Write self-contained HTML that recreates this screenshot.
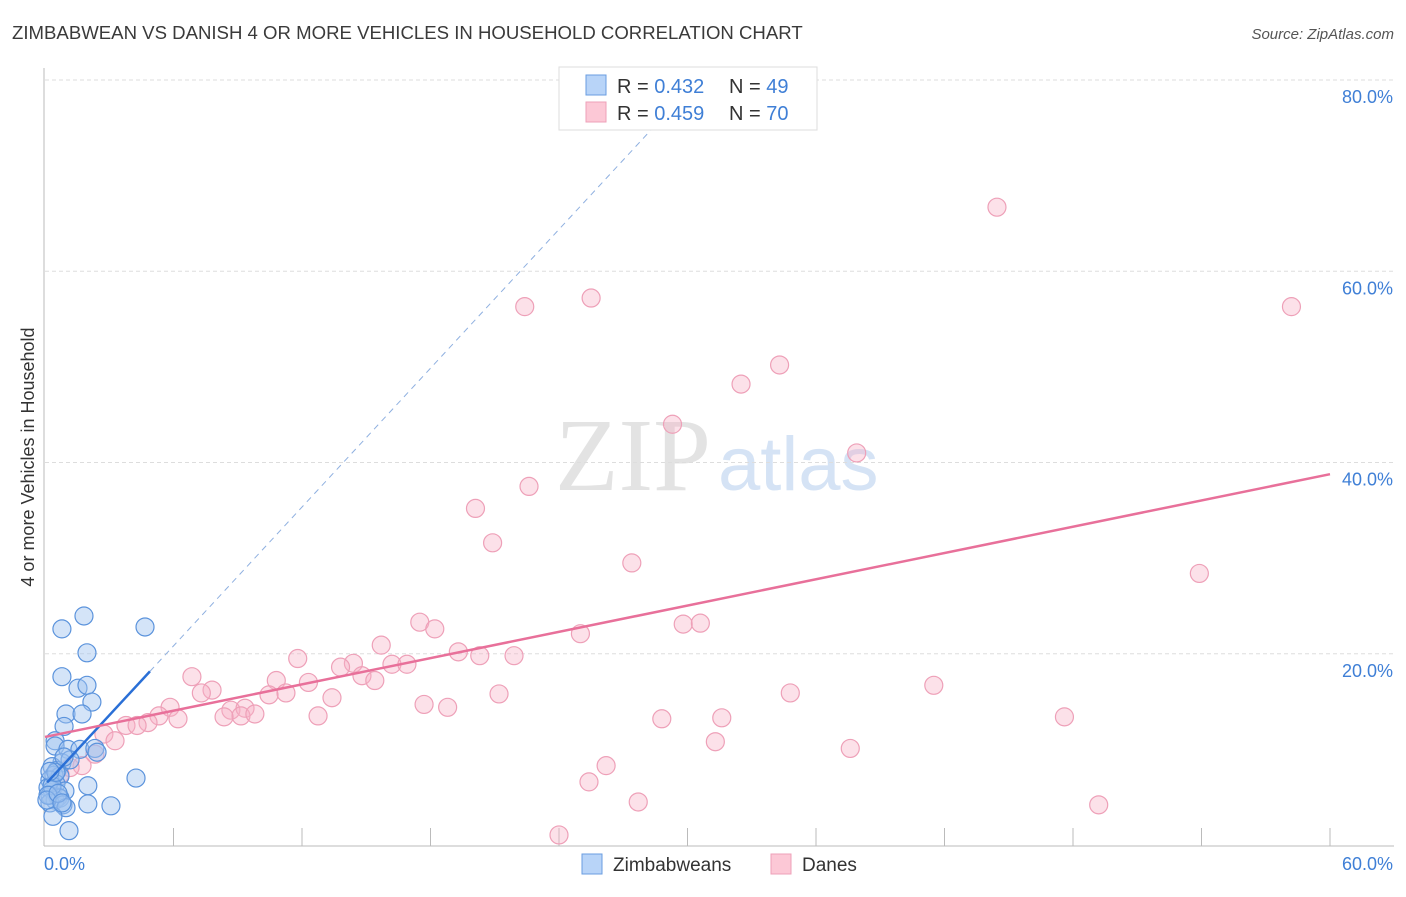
<!DOCTYPE html>
<html><head><meta charset="utf-8"><style>
body{margin:0;background:#fff;font-family:"Liberation Sans",sans-serif}
</style></head><body>
<svg id="chart" width="1406" height="892" xmlns="http://www.w3.org/2000/svg" style="font-family:'Liberation Sans',sans-serif">
<text x="12" y="39" font-size="18.6" fill="#3a3a3a">ZIMBABWEAN VS DANISH 4 OR MORE VEHICLES IN HOUSEHOLD CORRELATION CHART</text>
<text x="1394" y="39" font-size="15" fill="#555" text-anchor="end" font-style="italic">Source: ZipAtlas.com</text>
<text x="555" y="490" font-size="104" fill="#e3e3e3" font-family="'Liberation Serif',serif">ZIP</text>
<text x="718" y="490" font-size="76" fill="#d5e3f5">atlas</text>
<text transform="translate(34,457) rotate(-90)" font-size="18" fill="#333" text-anchor="middle">4 or more Vehicles in Household</text>
<g id="grid"></g><g id="axes"></g><g id="pts"></g><g id="lines"></g>
<g>
<rect x="559" y="67" width="258" height="63" fill="#fff" stroke="#ddd"/>
<rect x="586" y="75" width="20" height="20" fill="#b8d4f8" stroke="#6a9de0"/>
<rect x="586" y="102" width="20" height="20" fill="#fcc8d6" stroke="#eea0b8"/>
<text x="617" y="93" font-size="20" fill="#333">R = <tspan fill="#3f7fd6">0.432</tspan></text>
<text x="729" y="93" font-size="20" fill="#333">N = <tspan fill="#3f7fd6">49</tspan></text>
<text x="617" y="120" font-size="20" fill="#333">R = <tspan fill="#3f7fd6">0.459</tspan></text>
<text x="729" y="120" font-size="20" fill="#333">N = <tspan fill="#3f7fd6">70</tspan></text>
</g>
<g>
<rect x="582" y="854" width="20" height="20" fill="#b8d4f8" stroke="#6a9de0"/>
<text x="613" y="871" font-size="19" fill="#333">Zimbabweans</text>
<rect x="771" y="854" width="20" height="20" fill="#fcc8d6" stroke="#eea0b8"/>
<text x="802" y="871" font-size="19" fill="#333">Danes</text>
</g>
</svg>
<script>
const blueX=[1.82,0.79,4.67,1.96,0.79,1.54,1.96,2.19,0.98,1.73,0.89,0.47,0.47,1.07,1.63,2.33,2.43,0.79,0.33,0.56,0.42,0.70,0.23,0.51,0.14,0.33,0.93,0.23,0.61,0.47,0.70,0.23,0.84,2.0,4.25,2.0,3.08,0.98,0.37,1.12,0.33,0.14,0.51,1.17,0.89,0.23,0.09,0.61,0.79];
const blueY=[23.95,22.6,22.8,20.1,17.6,16.4,16.7,14.95,13.7,13.7,12.4,10.9,10.35,10.0,10.0,10.1,9.7,8.6,8.2,7.8,7.3,7.2,6.8,6.4,6.0,5.75,5.65,5.2,5.0,4.7,4.9,4.4,4.2,6.2,7.0,4.3,4.1,3.9,3.0,1.5,6.2,5.2,7.6,8.9,9.2,7.7,4.7,5.4,4.4];
const pinkX=[44.45,58.2,22.4,25.5,34.3,32.5,29.3,37.9,22.6,20.1,20.9,27.4,53.9,17.5,18.2,25.0,29.8,30.6,11.8,14.4,13.8,19.3,20.3,21.9,15.7,16.2,16.9,14.8,15.4,6.86,10.8,12.3,7.8,7.3,11.25,21.2,34.8,41.5,13.4,5.84,5.32,4.81,6.21,8.68,9.34,9.15,8.36,9.8,12.75,10.46,17.7,18.8,28.8,31.6,47.6,3.78,4.3,2.75,3.27,31.3,37.6,2.33,1.73,1.17,0.7,26.2,25.4,27.7,49.2,24.0];
const pinkY=[66.7,56.3,56.3,57.2,50.2,48.2,44.0,41.0,37.5,35.2,31.6,29.5,28.4,23.3,22.6,22.1,23.1,23.2,19.5,19.0,18.6,20.2,19.8,19.8,20.9,18.9,18.9,17.7,17.2,17.6,17.2,17.0,16.2,15.9,15.9,15.8,15.9,16.7,15.4,14.4,13.5,12.8,13.2,14.1,14.3,13.5,13.4,13.7,13.5,15.7,14.7,14.4,13.2,13.3,13.4,12.5,12.5,11.6,10.9,10.8,10.1,9.5,8.3,8.1,7.4,8.3,6.6,4.5,4.2,1.05];
const yTicks=[20,40,60,80];
const yTickLabels=["20.0%","40.0%","60.0%","80.0%"];
const blueFit=[6.3,2.42];const blueFitEnd=4.9;
const pinkFit=[11.3,0.458];
const NS="http://www.w3.org/2000/svg";
const sx=v=>45+v/60*1285, sy=v=>845-v/80*765;
function mk(p,t,a){const e=document.createElementNS(NS,t);for(const k in a)e.setAttribute(k,a[k]);p.appendChild(e);return e;}
const grid=document.getElementById('grid'),axes=document.getElementById('axes'),pts=document.getElementById('pts'),lines=document.getElementById('lines');
yTicks.forEach((t,i)=>{const l=mk(grid,'line',{x1:45,x2:1394,y1:sy(t),y2:sy(t),stroke:'#ddd','stroke-dasharray':'4,3'});


const tx=mk(axes,'text',{x:1393,y:sy(t)+23,'font-size':18,fill:'#3f7fd6','text-anchor':'end'});tx.textContent=yTickLabels[i];

});
const ya=mk(axes,'line',{x1:44,x2:44,y1:68,y2:846,stroke:'#bbb'});


const xa=mk(axes,'line',{x1:44,x2:1394,y1:846,y2:846,stroke:'#bbb'});


for(let i=1;i<=10;i++){const t=mk(axes,'line',{x1:sx(i*6),x2:sx(i*6),y1:828,y2:846,stroke:'#bbb'});

}
const x0=mk(axes,'text',{x:44,y:870,'font-size':18,fill:'#3f7fd6'});x0.textContent='0.0%';


const x1=mk(axes,'text',{x:1393,y:870,'font-size':18,fill:'#3f7fd6','text-anchor':'end'});x1.textContent='60.0%';


pinkX.forEach((x,i)=>{const c=mk(pts,'circle',{cx:sx(x),cy:sy(pinkY[i]),r:9,fill:'rgba(248,175,198,0.38)',stroke:'#eea0b8','stroke-width':1.2});

});
blueX.forEach((x,i)=>{const c=mk(pts,'circle',{cx:sx(x),cy:sy(blueY[i]),r:9,fill:'rgba(160,196,240,0.45)',stroke:'#5b93dc','stroke-width':1.2});

});
const bd=mk(lines,'line',{x1:sx(blueFitEnd),y1:sy(blueFit[0]+blueFit[1]*blueFitEnd),x2:sx(28.7),y2:sy(blueFit[0]+blueFit[1]*28.7),stroke:'#8fb0e0','stroke-dasharray':'6,5','stroke-width':1});


const bl=mk(lines,'line',{x1:sx(0.1),y1:sy(blueFit[0]+blueFit[1]*0.1),x2:sx(blueFitEnd),y2:sy(blueFit[0]+blueFit[1]*blueFitEnd),stroke:'#2a6fd6','stroke-width':2.5});


const pl=mk(lines,'line',{x1:sx(0),y1:sy(pinkFit[0]),x2:sx(60),y2:sy(pinkFit[0]+pinkFit[1]*60),stroke:'#e8709a','stroke-width':2.5});


</script>
</body></html>
